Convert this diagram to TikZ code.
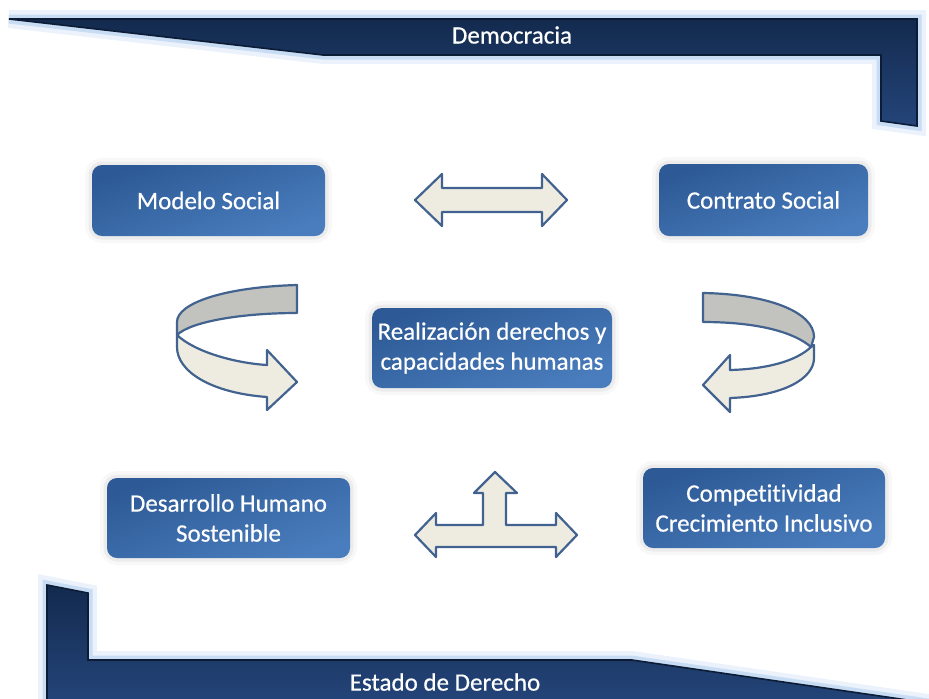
\documentclass[tikz,border=0pt]{standalone}
\usepackage{fontspec}
\setmainfont{Carlito}[Ligatures=NoCommon]
\newfontfamily\letrero{Carlito}[Ligatures=NoCommon, FakeBold=0.5]
\RequirePackage{tikz}
\RequirePackage{tkz-euclide}
\usetikzlibrary{calc}

\definecolor{banda}{HTML}{24457A}
\definecolor{bandaosc}{HTML}{132A4E}
\definecolor{bandaborde}{HTML}{0C1C36}
\definecolor{halo}{HTML}{9DC0EC}
\definecolor{cajaA}{HTML}{2D5A96}
\definecolor{cajaB}{HTML}{4A7DBD}
\definecolor{borde}{HTML}{42628F}
\definecolor{crema}{HTML}{EEECE1}
\definecolor{dorso}{HTML}{C2C2BE}

\tikzset{
  franja/.style={top color=bandaosc, bottom color=banda, draw=bandaborde, line width=0.8pt,
    preaction={draw=halo, line width=9pt, draw opacity=0.2},
    preaction={draw=halo, line width=4.5pt, draw opacity=0.45}},
  caja/.style={rounded corners=5pt, top color=cajaA, bottom color=cajaB, shading angle=20,
    text=white, align=center, inner sep=2pt, font=\letrero\fontsize{12.5}{15}\selectfont,
    preaction={draw=black!25, line width=7pt, draw opacity=0.1},
    preaction={draw=black!30, line width=3.5pt, draw opacity=0.18}},
  titulo/.style={text=white, font=\letrero\fontsize{12.5}{15}\selectfont},
  flecha/.style={draw=borde, line width=1.1pt, fill=crema, line join=round},
  reverso/.style={flecha, fill=dorso}
}

\begin{document}
\begin{tikzpicture}[x=0.5pt,y=-0.5pt]
  \useasboundingbox (0,0) rectangle (929,698);
  % franjas
  \tkzDefPoint(9,19){T1}   \tkzDefPoint(917,19){T2}  \tkzDefPoint(917,126){T3}
  \tkzDefPoint(881,121){T4} \tkzDefPoint(881,55){T5}  \tkzDefPoint(323,55){T6}
  \filldraw[franja] (T1) -- (T2) -- (T3) -- (T4) -- (T5) -- (T6) -- cycle;
  \node[titulo] (democracia) at (512,35) {Democracia};

  \tkzDefPoint(47,585){E1} \tkzDefPoint(88,593){E2}  \tkzDefPoint(88,660){E3}
  \tkzDefPoint(632,660){E4} \tkzDefPoint(935,704){E5} \tkzDefPoint(47,704){E6}
  \filldraw[franja] (E1) -- (E2) -- (E3) -- (E4) -- (E5) -- (E6) -- cycle;
  \node[titulo] (estado) at (445,682) {Estado de Derecho};

  % cajas
  \node[caja, minimum width=116.5pt, minimum height=35.5pt] (modelo) at (208.5,200.5) {Modelo Social};
  \node[caja, minimum width=104.5pt, minimum height=36pt] (contrato) at (763.5,200) {Contrato Social};
  \node[caja, minimum width=120pt, minimum height=40pt] (realizacion) at (492,348)
    {Realización derechos y\\capacidades humanas};
  \node[caja, minimum width=121.5pt, minimum height=40pt] (desarrollo) at (228.5,518)
    {Desarrollo Humano\\Sostenible};
  \node[caja, minimum width=121pt, minimum height=40pt] (competitividad) at (764,508)
    {Competitividad\\Crecimiento Inclusivo};

  % flecha doble
  \draw[flecha] (415,200) -- (442,174) -- (442,188) -- (542,188) -- (542,174) -- (567,200)
    -- (542,226) -- (542,212) -- (442,212) -- (442,226) -- cycle;

  % flecha triple
  \draw[flecha] (415,535) -- (436,513) -- (436,525) -- (483,525) -- (483,493) -- (474,493)
    -- (495,472) -- (517,493) -- (506,493) -- (506,525) -- (556,525) -- (556,513)
    -- (577,535) -- (556,557) -- (556,547) -- (436,547) -- (436,557) -- cycle;

  % giro izquierdo
  \draw[reverso] (297,285) .. controls (225,287) and (177,303) .. (177,322) -- (177,335)
    .. controls (190,322) and (240,313) .. (297,313) -- cycle;
  \draw[flecha] (177,335) .. controls (195,352) and (235,363) .. (267,365) -- (267,350)
    -- (297,382) -- (267,410) -- (267,397) .. controls (212,393) and (177,372) .. (177,347) -- cycle;

  % giro derecho
  \draw[reverso] (703,293) .. controls (768,294) and (814,312) .. (814,337) -- (811,347)
    .. controls (795,333) and (760,322) .. (703,322) -- cycle;
  \draw[flecha] (811,347) .. controls (795,362) and (765,369) .. (730,370) -- (730,355)
    -- (703,385) -- (730,412) -- (730,398) .. controls (785,396) and (814,378) .. (814,358)
    -- (814,345) -- cycle;
\end{tikzpicture}
\end{document}
